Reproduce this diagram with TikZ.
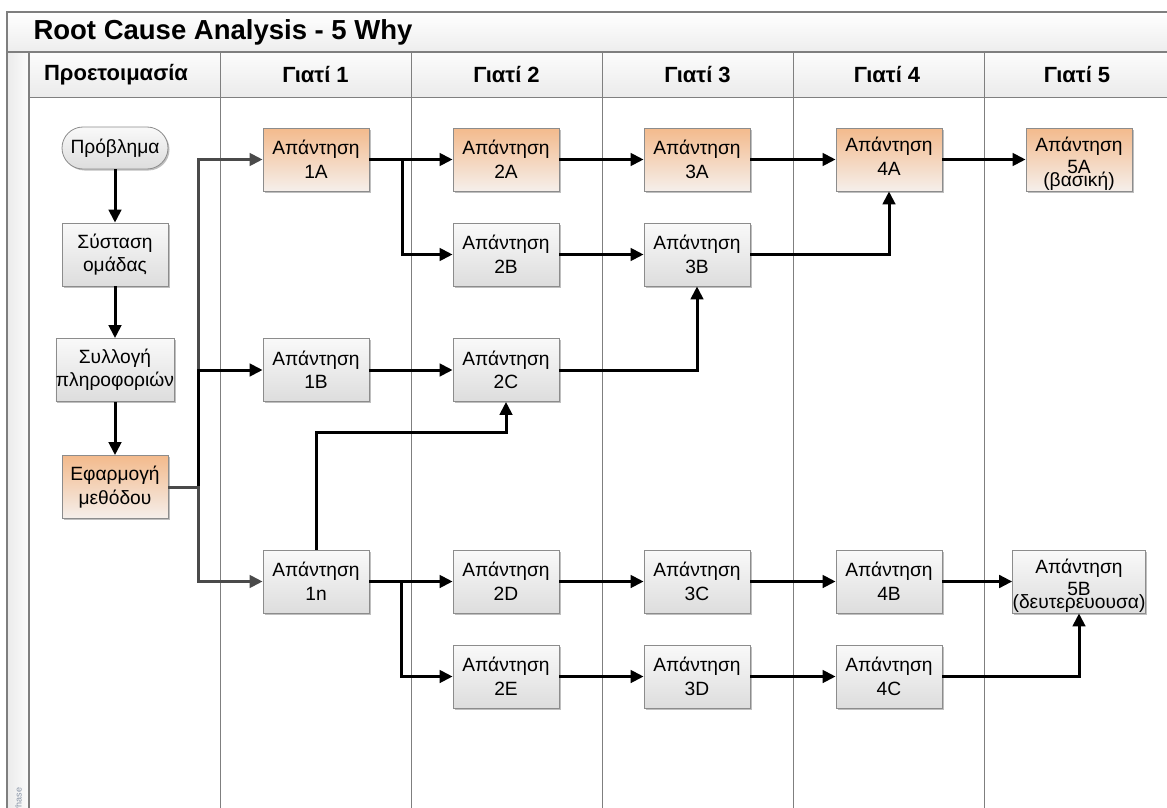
\documentclass[tikz,border=0pt]{standalone}
\usepackage{fontspec}
\setmainfont{Liberation Sans}
\usetikzlibrary{arrows.meta,shadows,calc}

\definecolor{framegray}{HTML}{7F7F7F}
\definecolor{boxedge}{HTML}{8C8C8C}
\definecolor{boxtop}{HTML}{F9F9F9}
\definecolor{boxbot}{HTML}{DDDDDD}
\definecolor{hottop}{HTML}{F3BA8C}
\definecolor{hotbot}{HTML}{F5EFEB}
\definecolor{trunkgray}{HTML}{4A4A4A}
\definecolor{phasetxt}{HTML}{8A96A8}

% text block shifted inside its box without changing the box size
\newcommand{\lowtext}[2]{\raisebox{#1}[\height][\depth]{\begin{tabular}{@{}c@{}}#2\end{tabular}}}

\tikzset{
  boxfont/.style={font=\fontsize{19.2}{23.5}\selectfont},
  stepbox/.style={boxfont, draw=boxedge, line width=0.8pt, rectangle,
    minimum width=106pt, minimum height=63pt, inner sep=0pt, align=center,
    top color=boxtop, bottom color=boxbot,
    drop shadow={opacity=0.25, shadow xshift=1.5pt, shadow yshift=-1.5pt, fill=black}},
  hotbox/.style={stepbox, top color=hottop, bottom color=hotbot},
  startbox/.style={stepbox, minimum height=42pt, rounded corners=21pt},
  hdr/.style={font=\fontsize{22}{26}\bfseries\selectfont},
  link/.style={line width=3pt, -{Triangle[length=13pt,width=12.5pt]}},
  glink/.style={link, draw=trunkgray, -{Triangle[length=13pt,width=12.5pt,fill=trunkgray]}},
  gridline/.style={draw=framegray, line width=0.9pt},
  frameline/.style={draw=framegray, line width=1.3pt}
}

\begin{document}
\begin{tikzpicture}[x=1pt,y=-1pt]
\useasboundingbox (0,0) rectangle (1167,808);
\clip (0,0) rectangle (1167,808);

% pool frame: title band, lane headers, phase strip
\shade[top color=white, bottom color=gray!14] (7,12) rectangle (1180,52);
\shade[top color=gray!2, bottom color=gray!16] (29,52) rectangle (1180,97);
\shade[left color=gray!16, right color=gray!3] (7,52) rectangle (29,820);
\draw[frameline] (1180,12) -- (7,12) -- (7,820);
\draw[frameline] (7,52) -- (1180,52);
\draw[frameline] (29,52) -- (29,820);
\draw[gridline] (29,97) -- (1180,97);
\foreach \xx in {220,411,602,793,984}
  \draw[gridline] (\xx,52) -- (\xx,820);

\node[anchor=west, font=\fontsize{27.5}{31}\bfseries\selectfont] (title) at (30,32.5) {Root Cause Analysis - 5 Why};
\node[rotate=90, anchor=west, font=\fontsize{9}{10}\selectfont, text=phasetxt, inner sep=0pt] (phase) at (18.5,813.5) {Phase};

\node[hdr] (h0) at (116,75) {Προετοιμασία};
\node[hdr] (h1) at (315.5,75) {Γιατί 1};
\node[hdr] (h2) at (506.5,75) {Γιατί 2};
\node[hdr] (h3) at (697.5,75) {Γιατί 3};
\node[hdr] (h4) at (887,75) {Γιατί 4};
\node[hdr] (h5) at (1077,75) {Γιατί 5};

% preparation lane
\node[startbox] (prob) at (115,148) {Πρόβλημα};
\node[stepbox] (team) at (115,254.5) {Σύσταση\\ομάδας};
\node[stepbox] (info) at (115,370) {Συλλογή\\πληροφοριών};
\node[hotbox] (apply) at (115,487) {Εφαρμογή\\μεθόδου};

% why lanes
\node[hotbox] (a1) at (316,159.5) {Απάντηση\\1A};
\node[stepbox] (b1) at (316,370) {Απάντηση\\1B};
\node[stepbox] (n1) at (316,581.5) {Απάντηση\\1n};

\node[hotbox] (a2) at (506,159.5) {Απάντηση\\2A};
\node[stepbox] (b2) at (506,254.5) {Απάντηση\\2B};
\node[stepbox] (c2) at (506,370) {Απάντηση\\2C};
\node[stepbox] (d2) at (506,581.5) {Απάντηση\\2D};
\node[stepbox] (e2) at (506,676.5) {Απάντηση\\2E};

\node[hotbox] (a3) at (697,159.5) {Απάντηση\\3A};
\node[stepbox] (b3) at (697,254.5) {\lowtext{-2.5pt}{Απάντηση\\3B}};
\node[stepbox] (c3) at (697,581.5) {Απάντηση\\3C};
\node[stepbox] (d3) at (697,676.5) {Απάντηση\\3D};

\node[hotbox] (a4) at (889,159.5) {\lowtext{0.5pt}{Απάντηση\\4A}};
\node[stepbox] (b4) at (889,581.5) {Απάντηση\\4B};
\node[stepbox] (c4) at (889,676.5) {Απάντηση\\4C};

\node[hotbox] (a5) at (1079,159.5) {\lowtext{-5pt}{Απάντηση\\[-2pt]5A\\[-10pt](βασική)}};
\node[stepbox] (b5) at (1079,581.5) {\lowtext{-5pt}{Απάντηση\\[-2pt]5B\\[-10pt](δευτερευουσα)}};

% connectors
\draw[link] (prob) -- (team);
\draw[link] (team) -- (info);
\draw[link] (info) -- (apply);

\draw[glink] (apply.east) -- ++(30,0) |- (a1.west);
\draw[link] (apply.east) -- ++(30,0) |- (b1.west);
\draw[glink] (apply.east) -- ++(30,0) |- (n1.west);

\draw[link] (a1) -- (a2);
\draw[link] (a1.east) -- ++(33,0) |- (b2.west);
\draw[link] (a2) -- (a3);
\draw[link] (a3) -- (a4);
\draw[link] (a4) -- (a5);
\draw[link] (b2) -- (b3);
\draw[link] (b3.east) -| (a4.south);
\draw[link] (b1) -- (c2);
\draw[link] (c2.east) -| (b3.south);
\draw[link] (n1.north) -- ++(0,-117) -| (c2.south);

\draw[link] (n1) -- (d2);
\draw[link] (n1.east) -- ++(32,0) |- (e2.west);
\draw[link] (d2) -- (c3);
\draw[link] (c3) -- (b4);
\draw[link] (b4) -- (b5);
\draw[link] (e2) -- (d3);
\draw[link] (d3) -- (c4);
\draw[link] (c4.east) -| (b5.south);
\end{tikzpicture}
\end{document}
